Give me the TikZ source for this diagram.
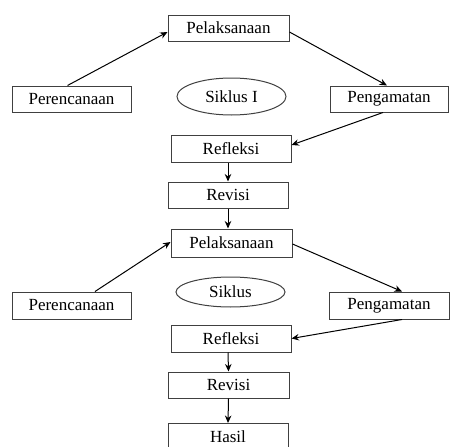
\documentclass[tikz,border=0pt]{standalone}
\usepackage{fontspec}
\setmainfont{Liberation Serif}
\usetikzlibrary{arrows.meta,calc,shapes.geometric}
\begin{document}
\begin{tikzpicture}[x=1pt,y=-1pt,
  lbl/.style={font=\fontsize{17}{19}\selectfont},
  box/.style={lbl,draw=black!75,line width=1pt,rectangle,minimum height=26pt,inner sep=0pt},
  oval/.style={lbl,draw=black!75,line width=1pt,ellipse,inner sep=0pt},
  arr/.style={line width=1pt,-{Stealth[length=7.5pt,width=6.5pt]}}]
\useasboundingbox (0,0) rectangle (450,447);
\clip (0,0) rectangle (450,447);
% cycle 1
\node[box,minimum width=121pt] (pel1) at (228.5,28) {Pelaksanaan};
\node[box,minimum width=119pt] (per1) at (71.5,99) {Perencanaan};
\node[oval,minimum width=109pt,minimum height=37pt] (sik1) at (231.5,96.5) {Siklus I};
\node[box,minimum width=118pt] (pen1) at (389,99) {Pengamatan};
\node[box,minimum width=120pt,minimum height=27pt] (ref1) at (231,148.5) {Refleksi};
\node[box,minimum width=120pt] (rev1) at (228,195) {Revisi};
% cycle 2
\node[box,minimum width=121pt,minimum height=28pt] (pel2) at (231.5,243) {Pelaksanaan};
\node[box,minimum width=119pt,minimum height=27pt] (per2) at (71.5,305.5) {Perencanaan};
\node[oval,minimum width=109pt,minimum height=30pt] (sik2) at (230.5,292) {Siklus};
\node[box,minimum width=120pt,minimum height=27pt] (pen2) at (389,305.5) {Pengamatan};
\node[box,minimum width=120pt,minimum height=27pt] (ref2) at (231,338.5) {Refleksi};
\node[box,minimum width=121pt] (rev2) at (228.5,385) {Revisi};
\node[box,minimum width=120pt,minimum height=28pt,anchor=north] (has) at (228,423) {};
\node[lbl,inner sep=0pt] (hast) at (228,437) {Hasil};
% arrows
\draw[arr] ([xshift=-4pt]per1.north) -- ([yshift=-4pt]pel1.west);
\draw[arr] ([yshift=-4pt]pel1.east) -- ([xshift=-2pt]pen1.north);
\draw[arr] ([xshift=-6pt]pen1.south) -- ([yshift=3.5pt]ref1.east);
\draw[arr] ([xshift=-3pt]ref1.south) -- (rev1.north);
\draw[arr] (rev1.south) -- (rev1.south |- pel2.north);
\draw[arr] ([xshift=23.5pt]per2.north) -- ([yshift=1pt]pel2.west);
\draw[arr] ([yshift=-1pt]pel2.east) -- ([xshift=13pt]pen2.north);
\draw[arr] ([xshift=13pt]pen2.south) -- (ref2.east);
\draw[arr] ([xshift=-3pt]ref2.south) -- (rev2.north);
\draw[arr] (rev2.south) -- (has.north);
\end{tikzpicture}
\end{document}
